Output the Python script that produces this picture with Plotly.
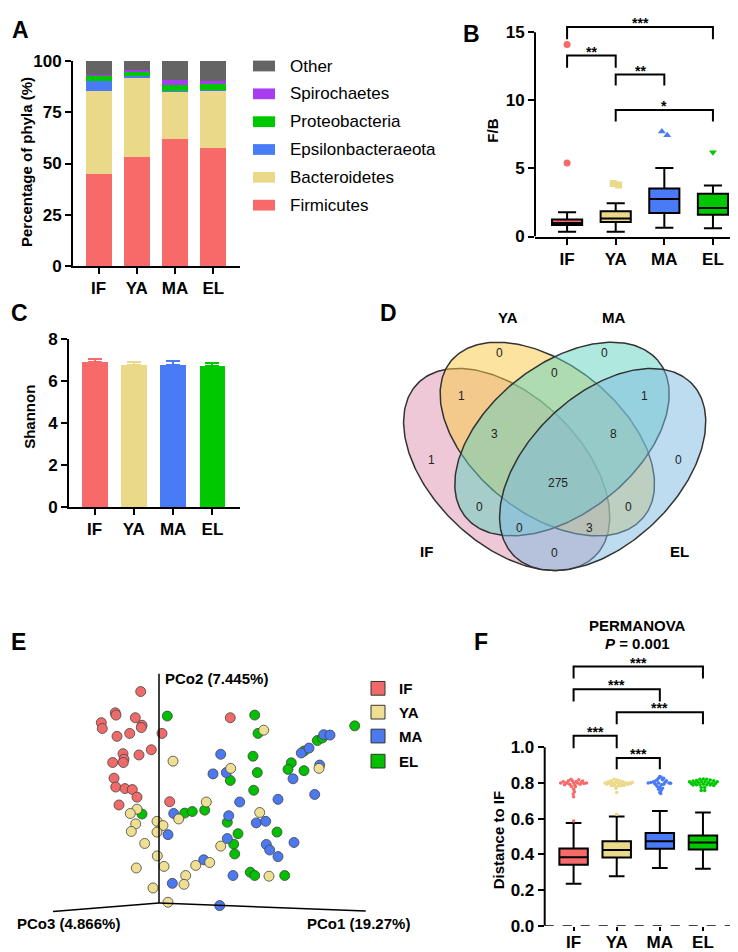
import numpy as np
import plotly.graph_objects as go

W, H = 738, 952
FONT = 'Liberation Sans'

GROUPS = ['IF', 'YA', 'MA', 'EL']
GROUP_COLORS = ['#F86A6A', '#EBD98A', '#4A7BF7', '#00C800']

# --- A: relative abundance of phyla (%)
PHYLA = ['Firmicutes', 'Bacteroidetes', 'Epsilonbacteraeota', 'Proteobacteria', 'Spirochaetes', 'Other']
PHYLA_COLORS = ['#F86A6A', '#EBD98A', '#4A7BF7', '#00C800', '#A83CF0', '#646464']
firmicutes = [45.0, 53.0, 62.2, 57.7]
bacteroidetes = [40.6, 38.7, 23.0, 27.8]
epsilonbacteraeota = [4.5, 1.1, 0.4, 0.5]
proteobacteria = [2.7, 1.9, 2.9, 3.0]
spirochaetes = [0.6, 1.0, 2.3, 1.3]
other = [6.6, 4.3, 9.2, 9.7]

# --- B: F/B ratio box stats
fb_q1 = [0.84, 1.06, 1.73, 1.60]
fb_median = [1.00, 1.32, 2.76, 2.09]
fb_q3 = [1.25, 1.85, 3.53, 3.14]
fb_low = [0.36, 0.36, 0.65, 0.60]
fb_high = [1.78, 2.45, 5.04, 3.74]
fb_out_x = [[0, 0], [0.95, 1.06], [1.95, 2.06], [3]]
fb_out_y = [[5.4, 14.1], [3.90, 3.78], [7.72, 7.45], [6.2]]
fb_symbols = ['circle', 'square', 'triangle-up', 'triangle-down']
fb_brackets = [(0, 3, 14.5, 15.4, '***'), (0, 1, 12.4, 13.3, '**'),
               (1, 2, 11.1, 11.9, '**'), (1, 3, 8.45, 9.3, '*')]

# --- C: Shannon index
shannon = [6.88, 6.76, 6.77, 6.71]
shannon_err = [0.15, 0.15, 0.15, 0.15]

# --- D: Venn counts
venn_counts = ['0', '0', '0', '1', '1', '3', '8', '1', '0', '275', '0', '0', '0', '3', '0']
venn_xy = [(575, 220), (890, 220), (740, 280), (460, 350), (1010, 350), (560, 465), (915, 465),
           (370, 545), (1110, 545), (750, 615), (515, 690), (960, 690), (635, 755), (845, 755), (740, 830)]
venn_sets = ['IF', 'YA', 'MA', 'EL']
venn_fill = ['rgba(221,145,175,0.5)', 'rgba(249,201,65,0.5)', 'rgba(95,209,189,0.5)', 'rgba(125,185,225,0.5)']
venn_ellipses = [(596, 575, 375, 225, 45), (718, 482, 375, 225, 40),
                 (762, 482, 375, 225, -40), (884, 575, 375, 225, -45)]

# --- E: PCoA scores (projected)
pcoa_if_x = [-18.3, -43.7, -43, -23.7, -57.7, -56.7, -17, -17.7, -42, -29.3, 3, -7.7, -36, -35, -35.7,
             -46.3, -20, -45, -43.3, -34, -26.7, -22, -40, 10.7, 71.3]
pcoa_if_y = [215.7, 194, 191.7, 189, 184, 178, 181.3, 179, 170, 173, 173, 156.3, 152.3, 146.7, 143.3,
             143.3, 151, 127.3, 118.3, 116.7, 115.7, 108, 100, 103.3, 189]
pcoa_ya_x = [104.7, 14, 71.7, 160, 47.3, -22, -28.7, 19.7, -23.3, -2, 4, -27.7, -2, 100.7, -14.3, -1.7,
             5, -22.7, 36.7, 50.7, 26.7, 25, -6, 9, 61.7, 110]
pcoa_ya_y = [176.3, 144.7, 137.3, 137.3, 103, 95.7, 91.3, 85.7, 80.7, 83.3, 79, 73, 72.3, 92.3, 60.7, 48,
             37.3, 35.7, 38.3, 41.3, 28, 19, 15.3, 0.7, 58, 27.3]
pcoa_ma_x = [61.7, 54, 67.3, 142.3, 150, 164.7, 171, 160.7, 134, 155.7, 119, 80.7, 69.7, 97.3, 106.7,
             68.3, 107.3, 110.7, 135, 119, 74, 60.7, 14.7, 9, 44.7, 13.3]
pcoa_ma_y = [151.7, 131.7, 133, 153, 158, 171.7, 171.3, 140.7, 126.7, 110.7, 105.7, 103, 89, 81.7, 83.3,
             65.7, 59.7, 54, 61.7, 47.3, 28, -2.7, 91.3, 69.7, 44, 20]
pcoa_el_x = [95.7, 99, 195.7, 158.3, 163.3, 145, 94, 132.3, 129, 145, 98.3, 71.3, 94.7, 8.3, -17, 25.7,
             33.3, 45.7, 68.3, 79, 118, 74.7, 75.7, 91.3, 95.7, 125.7]
pcoa_el_y = [191.7, 173, 180.7, 165.7, 168.3, 155, 149.7, 143, 136.3, 135, 133, 125, 115, 190.7, 90.7,
             91.7, 93.3, 94.7, 82.3, 70.7, 72.3, 60, 50, 31.3, 28, 28]
pcoa_axes = [(0, 234), (-106, -8.7), (206.7, -8.3)]

# --- F: distance to IF
dist_q1 = [0.342, 0.382, 0.431, 0.427]
dist_median = [0.384, 0.424, 0.473, 0.466]
dist_q3 = [0.433, 0.473, 0.519, 0.506]
dist_low = [0.236, 0.278, 0.324, 0.320]
dist_high = [0.576, 0.612, 0.643, 0.634]
dist_out = [[0.587], [0.624], [], []]
swarm_dx = [
    [-0.30, -0.24, -0.18, -0.12, -0.06, 0.00, 0.06, 0.12, 0.18, 0.24, 0.30, -0.21, -0.15, -0.09, -0.03,
     0.03, 0.09, 0.15, 0.21, -0.05, 0.04, 0.00, 0.02, -0.01, 0.00],
    [-0.27, -0.20, -0.13, -0.06, 0.01, 0.08, 0.15, 0.22, 0.29, 0.36, -0.23, -0.16, -0.09, -0.02, 0.05,
     0.12, 0.19, 0.26, 0.33, -0.12, -0.05, 0.02, 0.09, 0.16, -0.02, 0.00],
    [-0.27, -0.21, -0.15, -0.09, -0.03, 0.03, 0.09, 0.15, 0.21, 0.25, -0.12, -0.06, 0.00, 0.06, 0.12,
     -0.09, -0.03, 0.03, 0.09, -0.06, 0.00, 0.06, -0.03, 0.03, 0.00, 0.02],
    [-0.31, -0.23, -0.15, -0.07, 0.01, 0.09, 0.17, 0.25, 0.33, -0.27, -0.19, -0.11, -0.03, 0.05, 0.13,
     0.21, 0.29, -0.23, -0.15, -0.07, 0.01, 0.09, 0.17, 0.25, -0.04, 0.04, -0.04, 0.04],
]
swarm_y = [
    [0.800, 0.806, 0.800, 0.812, 0.820, 0.800, 0.808, 0.818, 0.802, 0.796, 0.800, 0.790, 0.800, 0.792, 0.812,
     0.788, 0.800, 0.792, 0.810, 0.780, 0.778, 0.765, 0.750, 0.738, 0.722],
    [0.800, 0.806, 0.812, 0.820, 0.816, 0.810, 0.806, 0.800, 0.800, 0.804, 0.792, 0.796, 0.800, 0.804, 0.798,
     0.794, 0.790, 0.792, 0.796, 0.784, 0.786, 0.782, 0.784, 0.786, 0.770, 0.746],
    [0.800, 0.802, 0.806, 0.812, 0.826, 0.832, 0.826, 0.812, 0.800, 0.798, 0.796, 0.818, 0.836, 0.818, 0.804,
     0.790, 0.800, 0.790, 0.792, 0.780, 0.776, 0.770, 0.764, 0.758, 0.748, 0.740],
    [0.806, 0.810, 0.814, 0.820, 0.822, 0.820, 0.816, 0.812, 0.806, 0.796, 0.800, 0.804, 0.806, 0.806, 0.802,
     0.798, 0.796, 0.788, 0.790, 0.790, 0.792, 0.790, 0.788, 0.786, 0.774, 0.774, 0.758, 0.758],
]
dist_brackets = [(0, 3, 1.384, 1.451), (0, 2, 1.256, 1.324), (1, 3, 1.128, 1.196),
                 (0, 1, 0.994, 1.064), (1, 2, 0.876, 0.940)]


# positions are given in screen pixels
def px(x):
    return x / W


def py(y):
    return 1 - y / H


def xdom(x0, x1):
    return [max(0, px(x0)), min(1, px(x1))]


def ydom(top, bottom):
    return [max(0, py(bottom)), min(1, py(top))]


TICKFONT = dict(family=FONT, size=17, color='black', weight='bold')


def cat_axis(dom, anchor, rng, showline=True, ticklen=6, standoff=0):
    return dict(domain=dom, anchor=anchor, range=rng, tickvals=[0, 1, 2, 3], ticktext=GROUPS,
                showline=showline, linecolor='black', linewidth=2, ticks='outside', ticklen=ticklen,
                tickwidth=2, tickcolor='black', tickfont=TICKFONT, showgrid=False, zeroline=False,
                ticklabelstandoff=standoff)


def val_axis(dom, anchor, rng, tickvals, showline=True, fmt=None):
    d = dict(domain=dom, anchor=anchor, range=rng, tickvals=tickvals, showline=showline,
             linecolor='black', linewidth=2, ticks='outside', ticklen=6, tickwidth=2,
             tickcolor='black', tickfont=TICKFONT, showgrid=False, zeroline=False)
    if fmt:
        d['tickformat'] = fmt
    return d


hidden = dict(visible=False, showgrid=False, zeroline=False)

fig = go.Figure()
xs = [0, 1, 2, 3]

# A: stacked bars
for name, vals, col in zip(PHYLA, [firmicutes, bacteroidetes, epsilonbacteraeota, proteobacteria,
                                   spirochaetes, other], PHYLA_COLORS):
    fig.add_trace(go.Bar(x=xs, y=vals, name=name, marker=dict(color=col, line=dict(width=0)),
                         width=0.68, xaxis='x', yaxis='y'))

# B: F/B boxes
for i in range(4):
    fig.add_trace(go.Box(x=[i], q1=[fb_q1[i]], median=[fb_median[i]], q3=[fb_q3[i]],
                         lowerfence=[fb_low[i]], upperfence=[fb_high[i]], width=0.62, whiskerwidth=0.6,
                         fillcolor=GROUP_COLORS[i], line=dict(color='black', width=2),
                         boxpoints=False, xaxis='x2', yaxis='y2'))
    fig.add_trace(go.Scatter(x=fb_out_x[i], y=fb_out_y[i], mode='markers',
                             marker=dict(symbol=fb_symbols[i], size=7, color=GROUP_COLORS[i]),
                             xaxis='x2', yaxis='y2'))

annotations = []
for a, b, yend, ytop, stars in fb_brackets:
    fig.add_trace(go.Scatter(x=[a, a, b, b], y=[yend, ytop, ytop, yend], mode='lines',
                             line=dict(color='black', width=2), xaxis='x2', yaxis='y2'))
    annotations.append(dict(x=(a + b) / 2, y=ytop, xref='x2', yref='y2', text='<b>%s</b>' % stars,
                            showarrow=False, yanchor='bottom', yshift=-6,
                            font=dict(family=FONT, size=14, color='black')))

# C: Shannon bars
for i in range(4):
    fig.add_trace(go.Bar(x=[i], y=[shannon[i]], width=0.66, marker=dict(color=GROUP_COLORS[i], line=dict(width=0)),
                         error_y=dict(type='data', array=[shannon_err[i]], arrayminus=[0], symmetric=False,
                                      color=GROUP_COLORS[i], thickness=2, width=7),
                         xaxis='x3', yaxis='y3'))

# D: Venn diagram
t = np.linspace(0, 2 * np.pi, 240)
for (cx, cy, a, b, ang), fill in zip(venn_ellipses, venn_fill):
    th = np.radians(ang)
    ex = cx + a * np.cos(t) * np.cos(th) - b * np.sin(t) * np.sin(th)
    ey = cy + a * np.cos(t) * np.sin(th) + b * np.sin(t) * np.cos(th)
    fig.add_trace(go.Scatter(x=ex, y=ey, mode='lines', fill='toself', fillcolor=fill,
                             line=dict(color='#333333', width=1.5), xaxis='x4', yaxis='y4'))
for txt, (vx, vy) in zip(venn_counts, venn_xy):
    annotations.append(dict(x=vx, y=vy, xref='x4', yref='y4', text=txt, showarrow=False,
                            font=dict(family=FONT, size=12, color='#222222')))
for txt, (lx, ly) in zip(venn_sets, [(355, 825), (600, 110), (915, 110), (1115, 825)]):
    annotations.append(dict(x=lx, y=ly, xref='x4', yref='y4', text='<b>%s</b>' % txt, showarrow=False,
                            font=dict(family=FONT, size=15, color='black')))

# E: PCoA
shapes = []
for ex_, ey_ in pcoa_axes:
    shapes.append(dict(type='line', xref='x5', yref='y5', x0=0, y0=0, x1=ex_, y1=ey_,
                       line=dict(color='black', width=1.5)))
pc_colors = {'IF': '#F06A6A', 'YA': '#EEDF92', 'MA': '#4C78F0', 'EL': '#00C000'}
for g, gx, gy in [('EL', pcoa_el_x, pcoa_el_y), ('MA', pcoa_ma_x, pcoa_ma_y),
                  ('YA', pcoa_ya_x, pcoa_ya_y), ('IF', pcoa_if_x, pcoa_if_y)]:
    fig.add_trace(go.Scatter(x=gx, y=gy, mode='markers', xaxis='x5', yaxis='y5',
                             marker=dict(size=10, color=pc_colors[g], line=dict(color='#444444', width=0.8))))

# F: distance boxes
for i in range(4):
    fig.add_trace(go.Box(x=[i], q1=[dist_q1[i]], median=[dist_median[i]], q3=[dist_q3[i]],
                         lowerfence=[dist_low[i]], upperfence=[dist_high[i]], width=0.66, whiskerwidth=0.55,
                         fillcolor=GROUP_COLORS[i], line=dict(color='black', width=2),
                         boxpoints=False, xaxis='x6', yaxis='y6'))
    sx = [i + d for d in swarm_dx[i]] + [i] * len(dist_out[i])
    sy = swarm_y[i] + dist_out[i]
    fig.add_trace(go.Scatter(x=sx, y=sy, mode='markers', xaxis='x6', yaxis='y6',
                             marker=dict(size=3.5, color=GROUP_COLORS[i])))
for a, b, yend, ytop in dist_brackets:
    fig.add_trace(go.Scatter(x=[a, a, b, b], y=[yend, ytop, ytop, yend], mode='lines',
                             line=dict(color='black', width=2), xaxis='x6', yaxis='y6'))
    annotations.append(dict(x=(a + b) / 2, y=ytop, xref='x6', yref='y6', text='<b>***</b>',
                            showarrow=False, yanchor='bottom', yshift=-6,
                            font=dict(family=FONT, size=14, color='black')))

# manual axis lines for B and F (stop at last tick)
shapes.append(dict(type='line', xref='x2 domain', yref='y2', x0=0, x1=0, y0=0, y1=15,
                   line=dict(color='black', width=2)))
shapes.append(dict(type='line', xref='x6 domain', yref='y6', x0=0, x1=0, y0=0, y1=1.0,
                   line=dict(color='black', width=2)))
shapes.append(dict(type='line', xref='x6 domain', yref='y6', x0=0, x1=1, y0=0, y1=0,
                   line=dict(color='black', width=1.5, dash='dash')))


def label(x, y, text, size=15, angle=0, xanchor='center'):
    annotations.append(dict(x=px(x), y=py(y), xref='paper', yref='paper', text=text, textangle=angle,
                            xanchor=xanchor, yanchor='middle', showarrow=False,
                            font=dict(family=FONT, size=size, color='black')))


# A legend
for k, (name, col) in enumerate(zip(PHYLA[::-1], PHYLA_COLORS[::-1])):
    yc = 50 + k * 28.4
    shapes.append(dict(type='rect', xref='paper', yref='paper', x0=px(245), x1=px(267),
                       y0=py(yc + 5.5), y1=py(yc - 5.5), fillcolor=col, line=dict(width=0)))
    label(280, yc, name, size=17, xanchor='left')

# E legend
for k, g in enumerate(GROUPS):
    yc = [685, 709.3, 733.7, 759.3][k]
    shapes.append(dict(type='rect', xref='paper', yref='paper', x0=px(363), x1=px(377),
                       y0=py(yc + 7), y1=py(yc - 7), fillcolor=pc_colors[g],
                       line=dict(color='#333333', width=1)))
    label(389, yc, '<b>%s</b>' % g, xanchor='left')

for letter, (lx, ly) in zip('ABCDEF', [(13, 13), (463, 17), (11, 302), (380, 302), (10, 638), (473, 638)]):
    label(lx, ly, '<b>%s</b>' % letter, size=23)

label(18, 148, '<b>Percentage of phyla (%)</b>', angle=-90)
label(485, 116, '<b>F/B</b>', angle=-90)
label(22, 408, '<b>Shannon</b>', angle=-90)
label(490, 840, '<b>Distance to IF</b>', angle=-90)
label(629, 621, '<b>PERMANOVA</b>')
label(629, 639, '<b><i>P</i> = 0.001</b>')
label(155, 675, '<b>PCo2 (7.445%)</b>', xanchor='left')
label(60, 925, '<b>PCo3 (4.866%)</b>')
label(350, 925, '<b>PCo1 (19.27%)</b>')

fig.update_layout(
    width=W, height=H, margin=dict(l=0, r=0, t=0, b=0),
    paper_bgcolor='white', plot_bgcolor='white', showlegend=False,
    barmode='stack', boxmode='overlay',
    font=dict(family=FONT, color='black'),
    xaxis=cat_axis(xdom(65, 232), 'y', [-0.67, 3.7]),
    yaxis=val_axis(ydom(45, 254), 'x', [0, 100], [0, 25, 50, 75, 100]),
    xaxis2=cat_axis(xdom(527, 738), 'y2', [-0.66, 3.68]),
    yaxis2=val_axis(ydom(1.8, 224), 'x2', [0, 16], [0, 5, 10, 15], showline=False),
    xaxis3=cat_axis(xdom(61, 232), 'y3', [-0.65, 3.7]),
    yaxis3=val_axis(ydom(328.3, 500), 'x3', [0, 8], [0, 2, 4, 6, 8]),
    xaxis4=dict(domain=xdom(380, 700), anchor='y4', range=[240, 1200], **hidden),
    yaxis4=dict(domain=ydom(290, 590), anchor='x4', range=[960, 60], **hidden),
    xaxis5=dict(domain=xdom(0, 360), anchor='y5', range=[-151, 209], **hidden),
    yaxis5=dict(domain=ydom(665, 930), anchor='x5', range=[-26, 239], **hidden),
    xaxis6=cat_axis(xdom(536.7, 726), 'y6', [-0.67, 3.72], showline=False, ticklen=4, standoff=-3),
    yaxis6=val_axis(ydom(653.9, 927.3), 'x6', [0, 1.5], [0, 0.2, 0.4, 0.6, 0.8, 1.0], showline=False, fmt='.1f'),
    shapes=shapes,
    annotations=annotations,
)

fig.write_html("out.html")
